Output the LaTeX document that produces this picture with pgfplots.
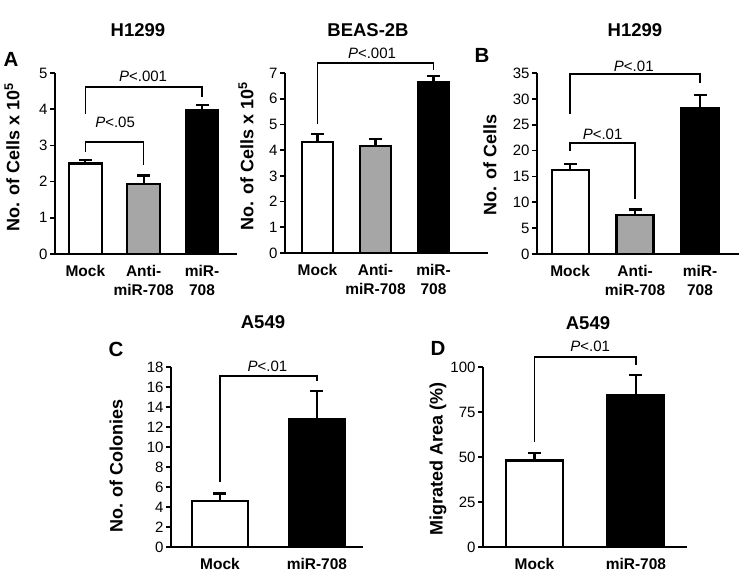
\documentclass[border=0pt]{standalone}
\usepackage{pgfplots}
\pgfplotsset{compat=1.18}
\usepackage{fontspec}
\setmainfont{Liberation Sans}
\definecolor{bargray}{RGB}{166,166,166}
\newcommand{\titlefont}{\fontsize{18.5}{21}\selectfont\bfseries}
\newcommand{\letterfont}{\fontsize{20.5}{22}\selectfont\bfseries}
\newcommand{\pfont}{\fontsize{15}{17}\selectfont}
\tikzset{brk/.style={line width=1.6pt, black}}
\pgfplotsset{
  panel/.style={
    scale only axis, anchor=south west, clip=false,
    axis x line=bottom, axis y line=left,
    axis line style={line width=1.6pt, -},
    ymin=0, tick align=outside, major tick length=5pt,
    y tick style={line width=1.6pt, black},
    x tick style={draw=none},
    /pgf/number format/assume math mode=true,
    yticklabel style={font=\fontsize{15}{17}\selectfont, xshift=1pt},
    xticklabel style={font=\fontsize{15.5}{19}\selectfont\bfseries, align=center, anchor=north, yshift=-2.5pt},
    ylabel style={font=\fontsize{18}{20}\selectfont\bfseries, rotate=0, anchor=center},
  },
  barW/.style={ybar, bar shift=0pt, fill=white, draw=black, line width=2.2pt,
    error bars/y dir=plus, error bars/y explicit,
    error bars/error bar style={line width=2.2pt, black},
    error bars/error mark options={rotate=90, line width=2.2pt, mark size=6.5pt, black}},
  barG/.style={barW, fill=bargray},
  barK/.style={barW, fill=black},
}
\begin{document}
\begin{tikzpicture}
\useasboundingbox (0pt,0pt) rectangle (750pt,581pt);

% Panel A, H1299
\begin{axis}[panel, at={(55pt,327pt)}, width=182pt, height=181pt,
  xmin=-0.52, xmax=2.6, ymax=5, ytick={0,1,2,3,4,5},
  xtick={0,1,2}, xticklabels={Mock, Anti-\\miR-708, miR-\\708},
  ylabel={No. of Cells x 10\textsuperscript{5}},
  ylabel style={at={(axis description cs:-0.236,0.536)}}]
\addplot[barW, bar width=0.56] coordinates {(0,2.50) +- (0,0.10)};
\addplot[barG, bar width=0.56] coordinates {(1,1.93) +- (0,0.24)};
\addplot[barK, bar width=0.56] coordinates {(2,3.97) +- (0,0.15)};
\draw[brk] (axis cs:0,2.82) -- (axis cs:0,3.10) -- (axis cs:1,3.10) -- (axis cs:1,2.45);
\draw[brk] (axis cs:0,3.88) -- (axis cs:0,4.61) -- (axis cs:2,4.61) -- (axis cs:2,4.34);
\node[font=\pfont] at (axis cs:0.51,3.65) {\textit{P}<.05};
\node[font=\pfont] at (axis cs:0.99,4.92) {\textit{P}<.001};
\end{axis}

% Panel A, BEAS-2B
\begin{axis}[panel, at={(285pt,328pt)}, width=203pt, height=180pt,
  xmin=-0.56, xmax=2.94, ymax=7, ytick={0,1,2,3,4,5,6,7},
  xtick={0,1,2}, xticklabels={Mock, Anti-\\miR-708, miR-\\708},
  ylabel={No. of Cells x 10\textsuperscript{5}},
  ylabel style={at={(axis description cs:-0.192,0.536)}}]
\addplot[barW, bar width=0.54] coordinates {(0,4.32) +- (0,0.30)};
\addplot[barG, bar width=0.54] coordinates {(1,4.17) +- (0,0.25)};
\addplot[barK, bar width=0.54] coordinates {(2,6.65) +- (0,0.22)};
\draw[brk] (axis cs:0,5.0) -- (axis cs:0,7.4) -- (axis cs:2,7.4) -- (axis cs:2,7.1);
\node[font=\pfont] at (axis cs:0.94,7.76) {\textit{P}<.001};
\end{axis}

% Panel B, H1299
\begin{axis}[panel, at={(537pt,327pt)}, width=202pt, height=181pt,
  xmin=-0.51, xmax=2.6, ymax=35, ytick={0,5,...,35},
  xtick={0,1,2}, xticklabels={Mock, Anti-\\miR-708, miR-\\708},
  ylabel={No. of Cells},
  ylabel style={at={(axis description cs:-0.233,0.49)}}]
\addplot[barW, bar width=0.57] coordinates {(0,16.2) +- (0,1.2)};
\addplot[barG, bar width=0.57] coordinates {(1,7.6) +- (0,1.0)};
\addplot[barK, bar width=0.57] coordinates {(2,28.2) +- (0,2.5)};
\draw[brk] (axis cs:0,20.0) -- (axis cs:0,21.5) -- (axis cs:1,21.5) -- (axis cs:1,10.7);
\draw[brk] (axis cs:0,27.0) -- (axis cs:0,34.8) -- (axis cs:2,34.8) -- (axis cs:2,33.1);
\node[font=\pfont] at (axis cs:0.50,23.2) {\textit{P}<.01};
\node[font=\pfont] at (axis cs:0.98,36.2) {\textit{P}<.01};
\end{axis}

% Panel C, A549
\begin{axis}[panel, at={(171pt,34pt)}, width=192pt, height=180pt,
  xmin=-0.505, xmax=1.475, ymax=18, ytick={0,2,...,18},
  xtick={0,1}, xticklabels={Mock, miR-708},
  ylabel={No. of Colonies},
  ylabel style={at={(axis description cs:-0.286,0.45)}}]
\addplot[barW, bar width=0.58] coordinates {(0,4.6) +- (0,0.75)};
\addplot[barK, bar width=0.58] coordinates {(1,12.8) +- (0,2.8)};
\draw[brk] (axis cs:0,6.5) -- (axis cs:0,17.1) -- (axis cs:1,17.1) -- (axis cs:1,16.6);
\node[font=\pfont] at (axis cs:0.49,18.07) {\textit{P}<.01};
\end{axis}

% Panel D, A549
\begin{axis}[panel, at={(483pt,34pt)}, width=204pt, height=180pt,
  xmin=-0.507, xmax=1.503, ymax=100, ytick={0,25,50,75,100},
  xtick={0,1}, xticklabels={Mock, miR-708},
  ylabel={Migrated Area (\%)},
  ylabel style={at={(axis description cs:-0.22,0.49)}}]
\addplot[barW, bar width=0.56] coordinates {(0,48.0) +- (0,4.4)};
\addplot[barK, bar width=0.56] coordinates {(1,84.3) +- (0,11.1)};
\draw[brk] (axis cs:0,58.5) -- (axis cs:0,105.5) -- (axis cs:1,105.5) -- (axis cs:1,101);
\node[font=\pfont] at (axis cs:0.55,111.3) {\textit{P}<.01};
\end{axis}

% Titles and panel letters
\node[font=\titlefont] at (138pt,551pt) {H1299};
\node[font=\titlefont] at (368pt,551pt) {BEAS-2B};
\node[font=\titlefont] at (635pt,551pt) {H1299};
\node[font=\titlefont] at (263pt,259pt) {A549};
\node[font=\titlefont] at (588pt,258pt) {A549};
\node[font=\letterfont] at (11pt,522pt) {A};
\node[font=\letterfont] at (482pt,526pt) {B};
\node[font=\letterfont] at (116pt,232pt) {C};
\node[font=\letterfont] at (438pt,233pt) {D};
\end{tikzpicture}
\end{document}
